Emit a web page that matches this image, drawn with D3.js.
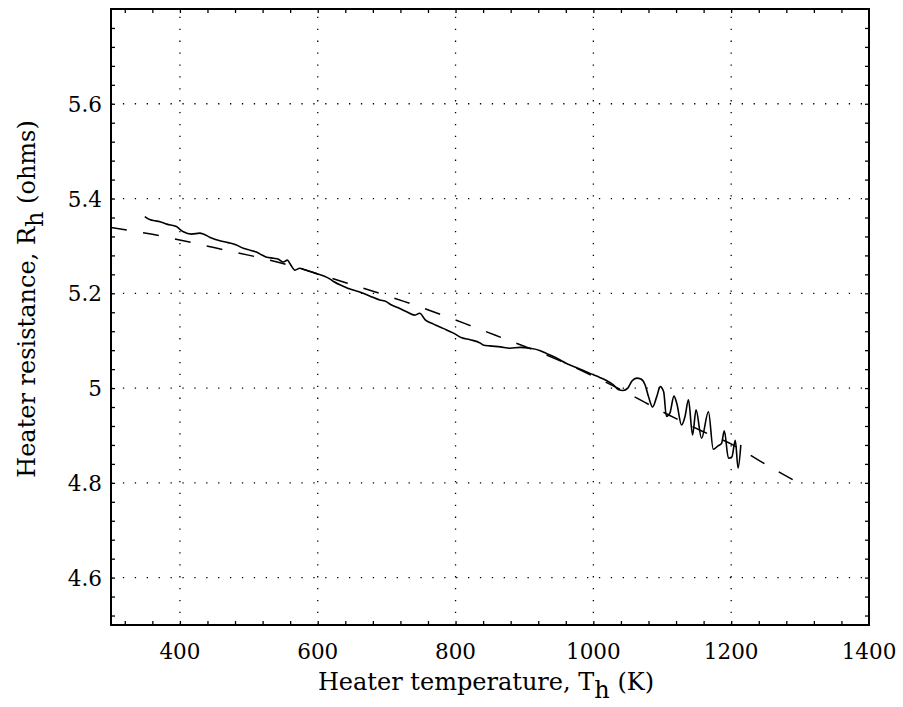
<!DOCTYPE html>
<html>
<head>
<meta charset="utf-8">
<script src="https://cdn.jsdelivr.net/npm/d3@7"></script>
<style>
  body { margin: 0; background: #fff; }
  text { font-family: "DejaVu Serif", serif; fill: #000; }
</style>
</head>
<body>
<div id="chart"></div>
<script>
// measured heater resistance vs temperature (solid)
const measT = [349, 357, 364, 371, 381, 395, 400, 405, 417, 429, 434, 444, 458, 470, 482, 492,
  502, 511, 519, 526, 536, 543, 550, 556, 560, 567, 574, 579, 589, 599, 608, 618, 623, 637,
  649, 661, 676, 690, 700, 705, 719, 729, 741, 748, 756, 768, 782, 797, 809, 821, 836, 840,
  850, 865, 879, 894, 908, 923, 932, 947, 961, 981, 995, 1010, 1019, 1029, 1036, 1043, 1050,
  1056, 1063, 1069, 1075, 1080, 1086, 1092, 1097, 1102, 1106, 1111, 1117, 1121, 1128, 1133,
  1138, 1144, 1149, 1157, 1167, 1174, 1181, 1186, 1190, 1196, 1201, 1206, 1210, 1214];
const measR = [5.362, 5.355, 5.353, 5.351, 5.346, 5.341, 5.335, 5.330, 5.325, 5.327, 5.325,
  5.318, 5.311, 5.307, 5.302, 5.295, 5.291, 5.287, 5.281, 5.276, 5.274, 5.272, 5.266, 5.270,
  5.262, 5.249, 5.253, 5.251, 5.246, 5.241, 5.237, 5.230, 5.225, 5.215, 5.208, 5.203, 5.194,
  5.186, 5.182, 5.177, 5.168, 5.161, 5.154, 5.158, 5.144, 5.135, 5.126, 5.116, 5.106, 5.102,
  5.095, 5.091, 5.089, 5.087, 5.084, 5.086, 5.084, 5.079, 5.073, 5.063, 5.052, 5.040, 5.031,
  5.022, 5.016, 5.007, 4.997, 4.995, 5.000, 5.015, 5.021, 5.019, 5.007, 4.982, 4.960, 4.982,
  5.003, 4.992, 4.940, 4.947, 4.983, 4.968, 4.922, 4.940, 4.975, 4.901, 4.954, 4.894, 4.950,
  4.871, 4.878, 4.883, 4.910, 4.852, 4.855, 4.890, 4.831, 4.880];

// fitted curve (dashed)
const fitT = [300, 358, 451, 544, 635, 725, 814, 857, 946, 1031, 1118, 1158, 1204, 1242, 1295];
const fitR = [5.339, 5.325, 5.296, 5.265, 5.225, 5.183, 5.136, 5.112, 5.061, 5.003, 4.937,
  4.909, 4.879, 4.846, 4.802];

const xMajor = [400, 600, 800, 1000, 1200, 1400];
const yMajor = [4.6, 4.8, 5.0, 5.2, 5.4, 5.6];
const yLabels = ["4.6", "4.8", "5", "5.2", "5.4", "5.6"];

const W = 903, H = 707;
const x = d3.scaleLinear().domain([300, 1400]).range([111, 869]);
const y = d3.scaleLinear().domain([4.5, 5.8]).range([625, 9]);

const svg = d3.select("#chart").append("svg")
    .attr("width", W)
    .attr("height", H);

// grid
svg.append("g").selectAll("line")
    .data(xMajor.filter(d => d < 1400))
  .enter().append("line")
    .attr("x1", d => x(d)).attr("x2", d => x(d))
    .attr("y1", y(4.5)).attr("y2", y(5.8))
    .attr("stroke", "#000").attr("stroke-width", 1.3)
    .attr("stroke-dasharray", "1.3,10.6");
svg.append("g").selectAll("line")
    .data(yMajor)
  .enter().append("line")
    .attr("y1", d => y(d)).attr("y2", d => y(d))
    .attr("x1", x(300)).attr("x2", x(1400))
    .attr("stroke", "#000").attr("stroke-width", 1.3)
    .attr("stroke-dasharray", "1.3,10.6");

// axes with inward minor ticks on all sides
const xMinor = d3.range(320, 1400, 40);
const yMinor = d3.range(113, 145).map(d => d * 0.04);

const ax = (g) => g.call(s => s.select(".domain").remove())
    .call(s => s.selectAll(".tick line").attr("stroke-width", 1.3));

svg.append("g").attr("transform", "translate(0," + y(4.5) + ")")
    .call(d3.axisTop(x).tickValues(xMinor).tickSize(4).tickFormat(""))
    .call(ax);
svg.append("g").attr("transform", "translate(0," + y(5.8) + ")")
    .call(d3.axisBottom(x).tickValues(xMinor).tickSize(4).tickFormat(""))
    .call(ax);
svg.append("g").attr("transform", "translate(" + x(300) + ",0)")
    .call(d3.axisRight(y).tickValues(yMinor).tickSize(4).tickFormat(""))
    .call(ax);
svg.append("g").attr("transform", "translate(" + x(1400) + ",0)")
    .call(d3.axisLeft(y).tickValues(yMinor).tickSize(4).tickFormat(""))
    .call(ax);

// tick labels
svg.append("g").selectAll("text")
    .data(xMajor)
  .enter().append("text")
    .attr("x", d => x(d))
    .attr("y", 659)
    .attr("text-anchor", "middle")
    .style("font-size", "21.5px")
    .text(d => d);
svg.append("g").selectAll("text")
    .data(yMajor)
  .enter().append("text")
    .attr("x", 102)
    .attr("y", d => y(d) + 8)
    .attr("text-anchor", "end")
    .style("font-size", "21.5px")
    .text((d, i) => yLabels[i]);

// frame
svg.append("rect")
    .attr("x", x(300)).attr("y", y(5.8))
    .attr("width", x(1400) - x(300)).attr("height", y(4.5) - y(5.8))
    .attr("fill", "none").attr("stroke", "#000").attr("stroke-width", 2);

// lines
const fitData = fitT.map((t, i) => [t, fitR[i]]);
const measData = measT.map((t, i) => [t, measR[i]]);

svg.append("path")
    .datum(fitData)
    .attr("d", d3.line().x(d => x(d[0])).y(d => y(d[1])).curve(d3.curveMonotoneX))
    .attr("fill", "none").attr("stroke", "#000").attr("stroke-width", 1.5)
    .attr("stroke-dasharray", "16,16.5");

svg.append("path")
    .datum(measData)
    .attr("d", d3.line().x(d => x(d[0])).y(d => y(d[1])).curve(d3.curveMonotoneX))
    .attr("fill", "none").attr("stroke", "#000").attr("stroke-width", 1.6)
    .attr("stroke-linejoin", "round");

// axis titles
const xt = svg.append("text")
    .attr("x", 486).attr("y", 690)
    .attr("text-anchor", "middle")
    .style("font-size", "24px");
xt.append("tspan").text("Heater temperature, T");
xt.append("tspan").attr("dy", 8).text("h");
xt.append("tspan").attr("dy", -8).text(" (K)");

const yt = svg.append("text")
    .attr("transform", "translate(35,299) rotate(-90)")
    .attr("text-anchor", "middle")
    .style("font-size", "24px");
yt.append("tspan").text("Heater resistance, R");
yt.append("tspan").attr("dy", 8).text("h");
yt.append("tspan").attr("dy", -8).text(" (ohms)");
</script>
</body>
</html>
